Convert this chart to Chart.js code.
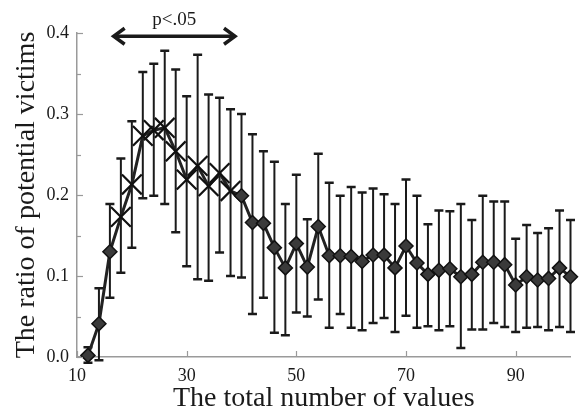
<!DOCTYPE html>
<html>
<head>
<meta charset="utf-8">
<script src="https://cdn.jsdelivr.net/npm/chart.js@4"></script>
<style>
  html, body { margin: 0; padding: 0; background: #fff; }
  canvas { display: block; }
</style>
</head>
<body>
<canvas id="chart" width="579" height="412"></canvas>
<script>
// Ratio of potential victims vs. total number of values (mean with error bars)

const xValues = [12, 14, 16, 18, 20, 22, 24, 26, 28, 30, 32, 34, 36, 38, 40, 42, 44, 46, 48, 50,
                 52, 54, 56, 58, 60, 62, 64, 66, 68, 70, 72, 74, 76, 78, 80, 82, 84, 86, 88, 90,
                 92, 94, 96, 98, 100];

const meanValues = [0.002, 0.041, 0.130, 0.173, 0.213, 0.273, 0.280, 0.283, 0.254, 0.219,
                    0.236, 0.211, 0.227, 0.205, 0.199, 0.166, 0.165, 0.135, 0.110, 0.140,
                    0.111, 0.161, 0.125, 0.125, 0.124, 0.118, 0.126, 0.126, 0.110, 0.137,
                    0.116, 0.102, 0.107, 0.109, 0.099, 0.102, 0.117, 0.117, 0.114, 0.089,
                    0.099, 0.095, 0.097, 0.110, 0.099];

const upperValues = [0.012, 0.085, 0.189, 0.245, 0.291, 0.352, 0.362, 0.378, 0.355, 0.322,
                     0.373, 0.324, 0.320, 0.306, 0.300, 0.275, 0.254, 0.241, 0.189, 0.225,
                     0.170, 0.251, 0.215, 0.199, 0.210, 0.203, 0.208, 0.201, 0.189, 0.219,
                     0.199, 0.164, 0.181, 0.180, 0.189, 0.169, 0.199, 0.192, 0.192, 0.146,
                     0.163, 0.153, 0.159, 0.181, 0.169];

const lowerValues = [-0.007, -0.004, 0.073, 0.104, 0.135, 0.196, 0.199, 0.189, 0.154, 0.112,
                     0.096, 0.094, 0.129, 0.100, 0.098, 0.053, 0.073, 0.030, 0.027, 0.055,
                     0.050, 0.071, 0.036, 0.053, 0.036, 0.033, 0.042, 0.048, 0.031, 0.051,
                     0.036, 0.038, 0.033, 0.038, 0.011, 0.034, 0.034, 0.042, 0.037, 0.031,
                     0.036, 0.037, 0.033, 0.037, 0.031];

// range where the difference is significant (drawn with X markers)
const sigStart = 18;
const sigEnd = 38;

const xTicks = [10, 30, 50, 70, 90];
const yTicks = [0.0, 0.1, 0.2, 0.3, 0.4];
const yMinorTicks = [0.05, 0.15, 0.25, 0.35];

// arrow annotation "p<.05"
const arrowFrom = 16.5;
const arrowTo = 39;
const arrowY = 0.396;
const arrowLabel = 'p<.05';
const arrowLabelY = 0.416;

const serif = '"Liberation Serif", "Times New Roman", serif';
const ink = '#1a1a1a';
const axisGray = '#9a9a9a';

const points = xValues.map((x, i) => ({ x: x, y: meanValues[i] }));
const isSig = xValues.map(x => x >= sigStart && x <= sigEnd);

// error bars + inward tick marks + arrow
const errorBarPlugin = {
    id: 'errorBars',
    beforeDatasetsDraw(chart) {
        const ctx = chart.ctx;
        const xs = chart.scales.x;
        const ys = chart.scales.y;
        ctx.save();
        ctx.strokeStyle = ink;
        xValues.forEach((x, i) => {
            const px = xs.getPixelForValue(x);
            const top = ys.getPixelForValue(upperValues[i]);
            const bot = ys.getPixelForValue(lowerValues[i]);
            ctx.lineWidth = 2;
            ctx.beginPath();
            ctx.moveTo(px, top);
            ctx.lineTo(px, bot);
            ctx.stroke();
            ctx.lineWidth = 2.5;
            ctx.beginPath();
            ctx.moveTo(px - 4.5, top);
            ctx.lineTo(px + 4.5, top);
            ctx.moveTo(px - 4.5, bot);
            ctx.lineTo(px + 4.5, bot);
            ctx.stroke();
        });
        ctx.restore();
    },
    afterDraw(chart) {
        const ctx = chart.ctx;
        const xs = chart.scales.x;
        const ys = chart.scales.y;
        const area = chart.chartArea;
        ctx.save();
        ctx.strokeStyle = axisGray;
        ctx.lineWidth = 1.2;
        yTicks.forEach(v => {
            const py = Math.round(ys.getPixelForValue(v)) + 0.5;
            ctx.beginPath();
            ctx.moveTo(area.left, py);
            ctx.lineTo(area.left + 6, py);
            ctx.stroke();
        });
        yMinorTicks.forEach(v => {
            const py = Math.round(ys.getPixelForValue(v)) + 0.5;
            ctx.beginPath();
            ctx.moveTo(area.left, py);
            ctx.lineTo(area.left + 4, py);
            ctx.stroke();
        });
        xTicks.forEach(v => {
            const px = Math.round(xs.getPixelForValue(v)) + 0.5;
            ctx.beginPath();
            ctx.moveTo(px, area.bottom);
            ctx.lineTo(px, area.bottom - 6);
            ctx.stroke();
        });

        // double arrow
        const x1 = xs.getPixelForValue(arrowFrom);
        const x2 = xs.getPixelForValue(arrowTo);
        const ay = ys.getPixelForValue(arrowY);
        ctx.strokeStyle = ink;
        ctx.lineWidth = 3.5;
        ctx.beginPath();
        ctx.moveTo(x1 + 2, ay);
        ctx.lineTo(x2 - 2, ay);
        ctx.stroke();
        ctx.lineJoin = 'miter';
        ctx.beginPath();
        ctx.moveTo(x1 + 12, ay - 8);
        ctx.lineTo(x1 + 1, ay);
        ctx.lineTo(x1 + 12, ay + 8);
        ctx.moveTo(x2 - 12, ay - 8);
        ctx.lineTo(x2 - 1, ay);
        ctx.lineTo(x2 - 12, ay + 8);
        ctx.stroke();

        ctx.fillStyle = ink;
        ctx.font = '19px ' + serif;
        ctx.textAlign = 'center';
        ctx.textBaseline = 'middle';
        ctx.fillText(arrowLabel, (x1 + x2) / 2, ys.getPixelForValue(arrowLabelY));
        ctx.restore();
    }
};

new Chart(document.getElementById('chart'), {
    type: 'line',
    data: {
        datasets: [{
            data: points,
            borderColor: '#222',
            borderWidth: 3,
            tension: 0,
            clip: false,
            pointStyle: isSig.map(s => s ? 'crossRot' : 'rectRot'),
            pointRadius: isSig.map(s => s ? 14 : 7),
            pointBorderWidth: isSig.map(s => s ? 2.2 : 1.5),
            pointBackgroundColor: '#3a3a3a',
            pointBorderColor: '#111'
        }]
    },
    options: {
        responsive: false,
        animation: false,
        events: [],
        layout: { padding: { top: 33, right: 7, left: 0, bottom: 0 } },
        plugins: {
            legend: { display: false },
            tooltip: { enabled: false }
        },
        scales: {
            x: {
                type: 'linear',
                min: 10,
                max: 100,
                afterBuildTicks: s => { s.ticks = xTicks.map(v => ({ value: v })); },
                afterFit: s => { s.height = 55; },
                grid: { display: false, drawTicks: false },
                border: { display: true, color: axisGray, width: 1.5 },
                ticks: {
                    color: ink,
                    padding: 8,
                    maxRotation: 0,
                    font: { family: serif, size: 18 }
                },
                title: {
                    display: true,
                    text: 'The total number of values',
                    color: ink,
                    padding: { top: 0, bottom: -3 },
                    font: { family: serif, size: 28 }
                }
            },
            y: {
                min: 0,
                max: 0.4,
                afterBuildTicks: s => { s.ticks = yTicks.map(v => ({ value: v })); },
                afterFit: s => { s.width = 77; },
                grid: { display: false, drawTicks: false },
                border: { display: true, color: axisGray, width: 1.5 },
                ticks: {
                    color: ink,
                    padding: 8,
                    font: { family: serif, size: 18 },
                    callback: v => v.toFixed(1)
                },
                title: {
                    display: true,
                    text: 'The ratio of potential victims',
                    color: ink,
                    padding: { top: 10, bottom: 0 },
                    font: { family: serif, size: 28 }
                }
            }
        }
    },
    plugins: [errorBarPlugin]
});
</script>
</body>
</html>
